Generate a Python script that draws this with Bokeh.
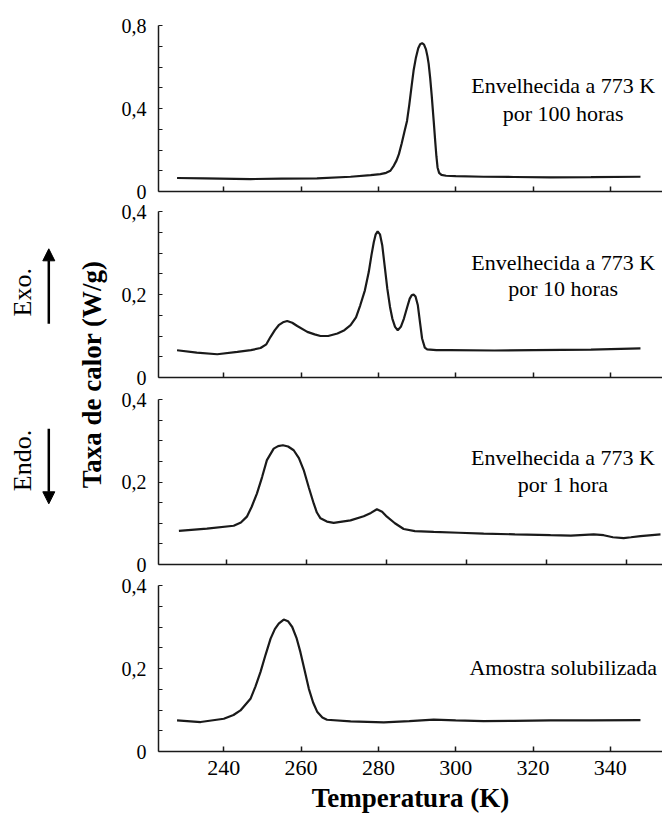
import numpy as np
from bokeh.plotting import figure
from bokeh.layouts import row, column
from bokeh.models import (Range1d, FixedTicker, CustomJSTickFormatter, Arrow, NormalHead,
                          CustomLabelingPolicy)
from bokeh.core.properties import value
from bokeh.embed import file_html
from bokeh.resources import INLINE

FONT = "Liberation Serif"

# ---------------- data ----------------
temp_100h = [227.9, 235, 246.9, 255, 264.1, 272.8, 278, 280.5, 282.0, 283.1, 284.0, 284.7, 285.3, 286.0,
             286.7, 287.4, 288.0, 288.6, 289.1, 289.7, 290.3, 290.8, 291.3, 291.8, 292.3, 292.7, 293.0,
             293.4, 293.8, 294.3, 294.7, 295.0, 295.3, 295.7, 296.3, 297.5, 300, 307.2, 315, 324.5, 335, 347.8]
rate_100h = [0.065, 0.063, 0.060, 0.062, 0.063, 0.071, 0.079, 0.084, 0.090, 0.100, 0.125, 0.150, 0.180, 0.230,
             0.285, 0.340, 0.420, 0.510, 0.583, 0.645, 0.690, 0.710, 0.715, 0.708, 0.685, 0.650, 0.615,
             0.545, 0.460, 0.340, 0.240, 0.170, 0.116, 0.090, 0.080, 0.076, 0.074, 0.071, 0.070, 0.068, 0.069, 0.071]

temp_10h = [227.9, 233, 238.3, 243.5, 247, 249.5, 251, 252.1, 253.2, 254.2, 255.3, 256.4, 257.7, 259.0,
            261.6, 263.5, 265.0, 267.0, 269.4, 271.2, 272.8, 274.2, 275.3, 276.5, 277.5, 278.2, 278.8,
            279.3, 279.8, 280.4, 281.0, 281.6, 282.3, 283.0, 283.6, 284.3, 285.0, 285.8, 286.6, 287.4,
            288.1, 288.6, 289.1, 289.6, 290.2, 290.8, 291.3, 292.0, 292.6, 295, 298.6, 310, 320.2, 335, 347.8]
rate_10h = [0.0657, 0.060, 0.056, 0.0616, 0.066, 0.071, 0.080, 0.098, 0.114, 0.126, 0.133, 0.136, 0.132,
            0.124, 0.110, 0.104, 0.100, 0.100, 0.106, 0.114, 0.126, 0.145, 0.174, 0.21, 0.254, 0.295,
            0.326, 0.345, 0.352, 0.345, 0.318, 0.27, 0.214, 0.17, 0.142, 0.122, 0.114, 0.122, 0.142,
            0.168, 0.19, 0.198, 0.20, 0.195, 0.174, 0.13, 0.094, 0.072, 0.068, 0.066, 0.066, 0.065,
            0.066, 0.067, 0.070]

temp_1h = [228.0, 235, 241.7, 243.5, 245.0, 246.2, 247.5, 248.8, 250.0, 251.7, 252.8, 254.0, 255.3, 256.7,
           258.0, 259.2, 260.5, 261.7, 262.5, 263.4, 265.0, 266.7, 270.9, 274.2, 276.0, 277.5, 278.8,
           280.0, 282.0, 284.2, 287, 291.7, 298, 304.2, 312, 320.9, 326, 331.7, 334.2, 336.5, 339.2,
           341, 343.4, 348.4]
rate_1h = [0.0816, 0.087, 0.094, 0.102, 0.116, 0.140, 0.172, 0.212, 0.253, 0.281, 0.287, 0.289, 0.286,
           0.277, 0.258, 0.229, 0.186, 0.148, 0.126, 0.112, 0.104, 0.101, 0.107, 0.117, 0.125, 0.134,
           0.128, 0.116, 0.100, 0.086, 0.081, 0.079, 0.077, 0.075, 0.073, 0.071, 0.070, 0.073, 0.071,
           0.066, 0.064, 0.066, 0.069, 0.073]

temp_sol = [227.9, 234.0, 240.0, 242.5, 244.3, 246.9, 248.2, 249.5, 250.8, 252.1, 253.2, 254.2, 255.5,
            256.6, 257.7, 258.8, 259.8, 260.9, 262.0, 263.1, 264.2, 265.5, 266.7, 272.8, 281.4, 288,
            294.3, 300, 307.2, 315, 324.5, 335, 347.8]
rate_sol = [0.0748, 0.071, 0.079, 0.088, 0.099, 0.127, 0.157, 0.192, 0.233, 0.272, 0.295, 0.308, 0.318,
            0.314, 0.300, 0.274, 0.240, 0.196, 0.151, 0.118, 0.095, 0.082, 0.0765, 0.0725, 0.070, 0.073,
            0.077, 0.075, 0.073, 0.074, 0.0748, 0.075, 0.0755]

x_ticks = [240, 260, 280, 300, 320, 340]
y_ticks_top = [0, 0.4, 0.8]
y_minor_top = [0.1, 0.2, 0.3, 0.5, 0.6, 0.7]
y_ticks = [0, 0.2, 0.4]
y_minor = [0.05, 0.1, 0.15, 0.25, 0.3, 0.35]

label_100h = ["Envelhecida a 773 K", "por 100 horas"]
label_10h = ["Envelhecida a 773 K", "por 10 horas"]
label_1h = ["Envelhecida a 773 K", "por 1 hora"]
label_sol = ["Amostra solubilizada"]
x_title = "Temperatura (K)"
y_title = "Taxa de calor (W/g)"

INK = "#1a1a1a"

y_fmt = CustomJSTickFormatter(code="return tick == 0 ? '0' : tick.toFixed(1).replace('.', ',');")
# panels 1-3 show x ticks only, no tick labels
no_labels = CustomLabelingPolicy(code="for (const i of indices) { indices.unset(i) } return indices")


def make_panel(xr, ymax, ticks, minor, top, fh, bottom, show_x):
    p = figure(frame_width=504, frame_height=fh, x_range=xr, y_range=Range1d(0, ymax),
               min_border_left=48, min_border_right=0, min_border_top=top, min_border_bottom=bottom,
               output_backend="svg", toolbar_location=None, background_fill_color="white",
               border_fill_color="white")
    p.outline_line_color = None
    p.grid.visible = False
    ax = p.xaxis[0]
    ax.ticker = FixedTicker(ticks=x_ticks)
    ax.major_tick_in = 5
    ax.major_tick_out = 0
    ax.minor_tick_in = 0
    ax.minor_tick_out = 0
    ax.axis_line_color = INK
    ax.axis_line_width = 1.5
    ax.major_tick_line_color = INK
    ax.major_tick_line_width = 1.5
    if show_x:
        ax.major_label_text_font = FONT
        ax.major_label_text_font_size = "22px"
        ax.major_label_text_color = "black"
        ax.major_label_standoff = 9
        ax.axis_label = x_title
        ax.axis_label_text_font = FONT
        ax.axis_label_text_font_size = "27px"
        ax.axis_label_text_font_style = "bold"
        ax.axis_label_text_color = "black"
        ax.axis_label_standoff = 5
    else:
        ax.major_label_policy = no_labels
        ax.major_label_text_font_size = "0px"
        ax.major_label_standoff = 0
    ay = p.yaxis[0]
    ay.ticker = FixedTicker(ticks=ticks, minor_ticks=minor)
    ay.formatter = y_fmt
    ay.major_tick_in = 4
    ay.major_tick_out = 0
    ay.minor_tick_in = 4
    ay.minor_tick_out = 0
    ay.axis_line_color = INK
    ay.axis_line_width = 1.5
    ay.major_tick_line_color = INK
    ay.minor_tick_line_color = INK
    ay.major_tick_line_width = 1.2
    ay.minor_tick_line_width = 1.2
    ay.major_label_text_font = FONT
    ay.major_label_text_font_size = "20px"
    ay.major_label_text_color = "black"
    ay.major_label_standoff = 12
    return p


def add_labels(p, x, ys, lines):
    p.text(x=[x] * len(lines), y=ys, text=lines, text_align="center", text_baseline="middle",
           text_font=value(FONT), text_font_size=value("22px"), text_color="black")


xr_main = Range1d(223.1, 353.5)
xr_1h = Range1d(222.9, 348.9)

p1 = make_panel(xr_main, 0.8, y_ticks_top, y_minor_top, 25, 166, 10, False)
p1.line(temp_100h, rate_100h, line_color=INK, line_width=2.2)
add_labels(p1, 327.8, [0.510, 0.375], label_100h)

p2 = make_panel(xr_main, 0.4, y_ticks, y_minor, 10, 166, 11, False)
p2.line(temp_10h, rate_10h, line_color=INK, line_width=2.2)
add_labels(p2, 327.8, [0.278, 0.215], label_10h)

p3 = make_panel(xr_1h, 0.4, y_ticks, y_minor, 11, 165, 11, False)
p3.line(temp_1h, rate_1h, line_color=INK, line_width=2.2)
add_labels(p3, 324.0, [0.260, 0.193], label_1h)

p4 = make_panel(xr_main, 0.4, y_ticks, y_minor, 10, 166, 65, True)
p4.line(temp_sol, rate_sol, line_color=INK, line_width=2.2)
add_labels(p4, 327.8, [0.203], label_sol)

# left strip: Exo / Endo arrows and the shared y-axis title
left = figure(frame_width=110, frame_height=816, x_range=Range1d(0, 110), y_range=Range1d(0, 816),
              min_border_left=0, min_border_right=0, min_border_top=0, min_border_bottom=0,
              output_backend="svg", toolbar_location=None)
left.axis.visible = False
left.grid.visible = False
left.outline_line_color = None
left.text(x=[21.7, 21.7], y=[524.3, 356.0], text=["Exo.", "Endo."], angle=np.pi / 2,
          text_align="center", text_baseline="middle", text_font=value(FONT),
          text_font_size=value("26px"), text_color="black")
left.text(x=[91.7], y=[442.0], text=[y_title], angle=np.pi / 2, text_align="center",
          text_baseline="middle", text_font=value(FONT), text_font_size=value("27px"),
          text_font_style="bold", text_color="black")
left.add_layout(Arrow(end=NormalHead(size=12, fill_color="black", line_color="black"),
                      x_start=48.3, y_start=492.7, x_end=48.3, y_end=567.7,
                      line_color="black", line_width=2.5))
left.add_layout(Arrow(end=NormalHead(size=12, fill_color="black", line_color="black"),
                      x_start=48.3, y_start=387.7, x_end=48.3, y_end=312.7,
                      line_color="black", line_width=2.5))

layout = row(left, column(p1, p2, p3, p4, spacing=0), spacing=0)

open("out.html", "w").write(file_html(layout, INLINE))
